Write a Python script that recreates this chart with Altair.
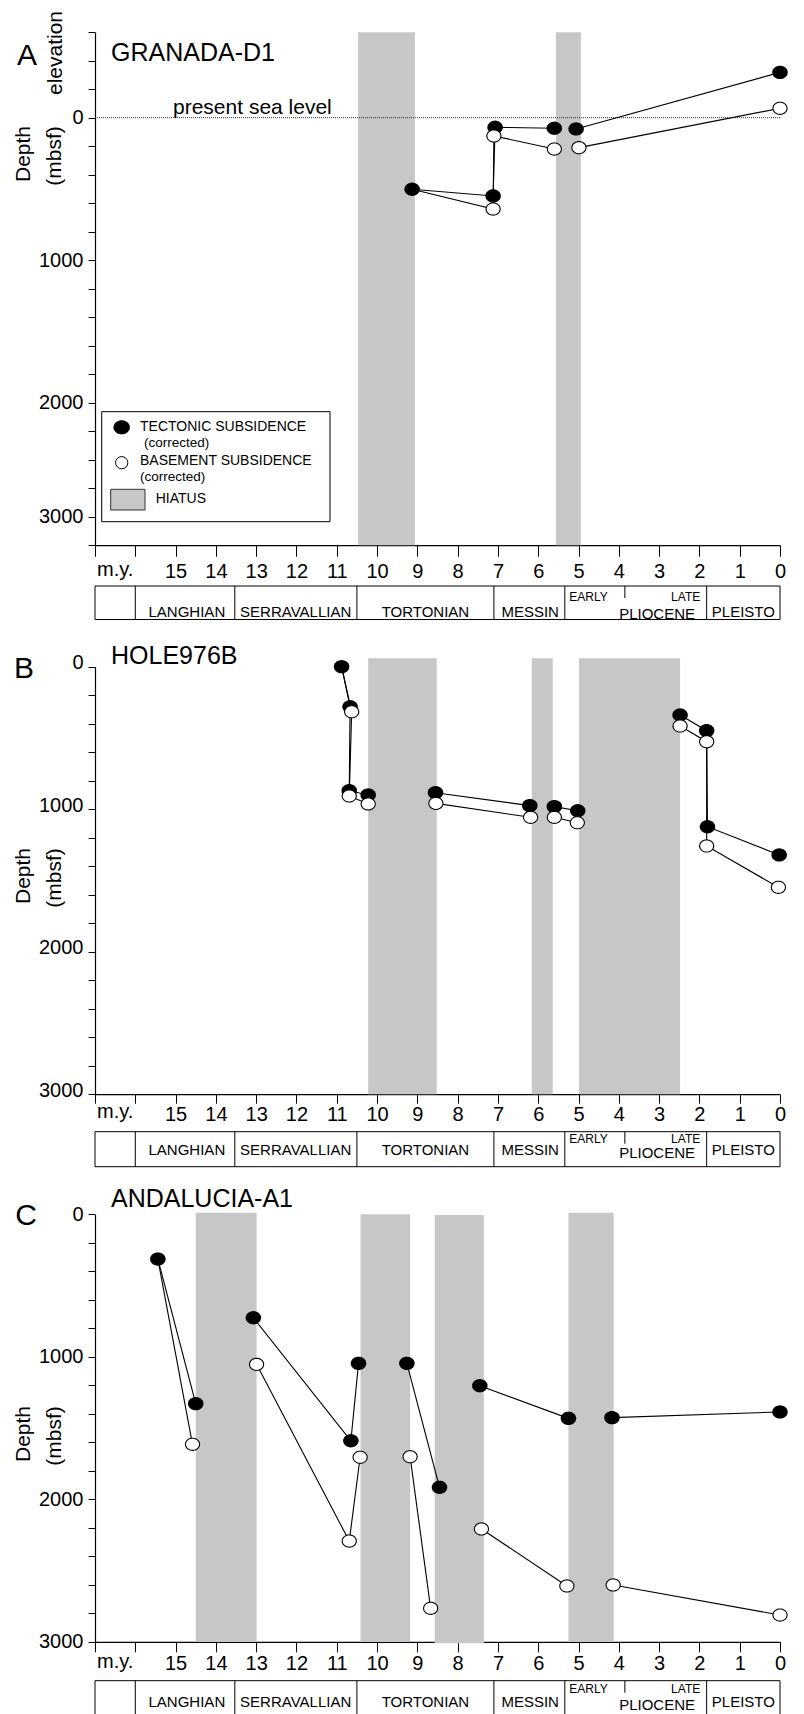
import math
import altair as alt
import pandas as pd

FONT = "Liberation Sans"
W, H = 685, 1706          # plot area (whole figure band)
LEFT, TOP = 95, 8         # page position of plot-area origin

# ---------------- shared age axis / stratigraphy ----------------
age_ticks = list(range(0, 18))
my_label_age = [16.5]
table_extent = [17.0, 0.0]
stage_names = ["LANGHIAN", "SERRAVALLIAN", "TORTONIAN", "MESSIN", "PLIOCENE", "PLEISTO"]
stage_label_age = [14.72, 12.02, 8.80, 6.20, 3.05, 0.91]
stage_bounds = [16.0, 13.53, 10.50, 7.10, 5.34, 1.82]
plio_sub_names = ["EARLY", "LATE"]
plio_sub_age = [5.23, 1.98]
plio_sub_bound = [3.85]
sea_level = [0]

# ---------------- A: GRANADA-D1 ----------------
A_tect_age = [9.13, 7.12, 7.07, 5.60, 5.06, 0.0]
A_tect_depth = [502, 549, 67, 74, 79, -318]
A_tect_seg = [1, 1, 1, 1, 2, 2]
A_base_age = [9.13, 7.12, 7.10, 5.60, 4.99, 0.0]
A_base_depth = [502, 641, 128, 220, 210, -66]
A_base_seg = [1, 1, 1, 1, 2, 2]
A_hiatus_start = [10.47, 5.56]
A_hiatus_end = [9.06, 4.94]
A_hiatus_top = [-600, -600]
A_hiatus_bottom = [3250, 3250]
A_yticks = [-600, -400, -200, 0, 200, 400, 600, 800, 1000, 1200, 1400, 1600, 1800,
            2000, 2250, 2500, 2750, 3000, 3250]

# ---------------- B: HOLE976B ----------------
B_tect_age = [10.88, 10.67, 10.69, 10.22, 8.55, 6.21, 5.60, 5.02, 2.48, 1.82, 1.80, 0.02]
B_tect_depth = [0, 281, 870, 900, 884, 975, 982, 1011, 339, 449, 1123, 1321]
B_tect_seg = [1, 1, 1, 1, 2, 2, 3, 3, 4, 4, 4, 4]
B_base_age = [10.88, 10.63, 10.69, 10.22, 8.54, 6.19, 5.60, 5.03, 2.48, 1.82, 1.82, 0.04]
B_base_depth = [0, 316, 907, 963, 959, 1057, 1057, 1095, 416, 526, 1258, 1548]
B_base_seg = [1, 1, 1, 1, 2, 2, 3, 3, 4, 4, 4, 4]
B_hiatus_start = [10.22, 6.16, 4.99]
B_hiatus_end = [8.52, 5.64, 2.48]
B_hiatus_top = [-59, -59, -59]
B_hiatus_bottom = [3000, 3000, 3000]
BC_yticks = list(range(0, 3001, 200))

# ---------------- C: ANDALUCIA-A1 ----------------
C_tect_age = [15.44, 14.50, 13.07, 10.65, 10.46, 9.26, 8.45, 7.45, 5.25, 4.17, 0.0]
C_tect_depth = [314, 1329, 726, 1589, 1046, 1046, 1916, 1203, 1432, 1427, 1387]
C_tect_seg = [1, 1, 2, 2, 2, 3, 3, 4, 4, 5, 5]
C_base_age = [15.44, 14.58, 12.99, 10.69, 10.42, 9.18, 8.67, 7.41, 5.29, 4.14, 0.0]
C_base_depth = [314, 1614, 1053, 2293, 1705, 1701, 2765, 2208, 2608, 2601, 2812]
C_base_seg = [1, 1, 2, 2, 2, 3, 3, 4, 4, 5, 5]
C_hiatus_start = [14.50, 10.41, 8.57, 5.25]
C_hiatus_end = [12.99, 9.18, 7.35, 4.13]
C_hiatus_top = [-11, 0, 5, -11]
C_hiatus_bottom = [3000, 3000, 3010, 3000]

GRAY = "#c6c7c9"
# slightly flattened ellipse symbol (unit box)
ELLIPSE = "M" + " L".join("%.3f,%.3f" % (1.0 * math.cos(2 * math.pi * k / 36),
                                          0.86 * math.sin(2 * math.pi * k / 36)) for k in range(36)) + " Z"


def txt(text, px, py, size, align="left", baseline="middle", angle=0):
    kw = dict(align=align, baseline=baseline, fontSize=size, font=FONT, color="black")
    if angle:
        kw["angle"] = angle
    return alt.Chart(pd.DataFrame({"t": [text]})).mark_text(**kw).encode(
        x=alt.value(px - LEFT), y=alt.value(py - TOP), text="t:N")


def make_panel(P):
    xs = alt.Scale(domain=[17, 0], nice=False, zero=False)
    ys = alt.Scale(domain=P["ydom"], range=[v - TOP for v in P["yrange"]], nice=False, zero=False)
    xaxis = alt.Axis(orient="bottom", values=age_ticks, format="d",
                     labelExpr="datum.value <= 15 ? datum.label : ''",
                     offset=P["xaxis_y"] - TOP - H, tickSize=P["tick"], labelPadding=P["lpad"],
                     labelFontSize=20, labelFont=FONT, labelColor="black", tickColor="black",
                     domainColor="black", domainWidth=1.2, tickWidth=1, grid=False, title=None,
                     labelFlush=False, labelOverlap=False, labelAngle=0)
    yaxis = alt.Axis(orient="left", values=P["yticks"], format="d",
                     labelExpr="(datum.value >= 0 && datum.value % 1000 == 0) ? datum.label : ''",
                     tickSize=7, labelPadding=5, labelFontSize=20, labelFont=FONT,
                     labelColor="black", tickColor="black", domainColor="black", domainWidth=1.2,
                     tickWidth=1, grid=False, title=None, labelOverlap=False,
                     labelBaseline="middle", labelOffset=P["yloff"])

    def X(f, axis=None):
        return alt.X(f, type="quantitative", scale=xs, axis=axis)

    def Y(f, axis=None):
        return alt.Y(f, type="quantitative", scale=ys, axis=axis)

    layers = []
    hi = pd.DataFrame({"a0": P["h_start"], "a1": P["h_end"], "d0": P["h_top"], "d1": P["h_bottom"]})
    layers.append(alt.Chart(hi).mark_rect(color=GRAY).encode(
        x=X("a0", xaxis), x2=alt.X2("a1"), y=Y("d0", yaxis), y2=alt.Y2("d1")))

    if P.get("sea"):
        sl = pd.DataFrame({"d": sea_level, "a0": [table_extent[0]], "a1": [table_extent[1]]})
        layers.append(alt.Chart(sl).mark_rule(color="#333333", strokeWidth=1, strokeDash=[1, 1]).encode(
            x=X("a0"), x2=alt.X2("a1"), y=Y("d")))

    t = pd.DataFrame({"age": P["t_age"], "depth": P["t_depth"], "seg": P["t_seg"]})
    t["key"] = ["t%d" % s for s in t["seg"]]
    t["i"] = range(len(t))
    b = pd.DataFrame({"age": P["b_age"], "depth": P["b_depth"], "seg": P["b_seg"]})
    b["key"] = ["b%d" % s for s in b["seg"]]
    b["i"] = range(len(b))
    lines = pd.concat([t, b], ignore_index=True)
    layers.append(alt.Chart(lines).mark_line(color="black", strokeWidth=1.1).encode(
        x=X("age"), y=Y("depth"), detail="key:N", order="i:Q"))
    layers.append(alt.Chart(t).mark_point(shape=ELLIPSE, filled=True, color="black", opacity=1,
                                          size=240).encode(x=X("age"), y=Y("depth")))
    layers.append(alt.Chart(b.iloc[1:]).mark_point(shape=ELLIPSE, filled=True, fill="white",
                                                   stroke="black", strokeWidth=1.1, opacity=1,
                                                   size=200).encode(x=X("age"), y=Y("depth")))

    # m.y. label
    layers.append(alt.Chart(pd.DataFrame({"a": my_label_age, "t": ["m.y."]})).mark_text(
        fontSize=20, font=FONT, color="black", baseline="middle").encode(
        x=X("a"), y=alt.value(P["xaxis_y"] + P["lab_off"] - TOP), text="t:N"))

    # stratigraphic table
    T0, T1 = P["table"]
    ext = pd.DataFrame({"a0": [table_extent[0]], "a1": [table_extent[1]]})
    layers.append(alt.Chart(ext).mark_rect(fillOpacity=0, stroke="black", strokeWidth=1).encode(
        x=X("a0"), x2=alt.X2("a1"), y=alt.value(T0 - TOP), y2=alt.value(T1 - TOP)))
    layers.append(alt.Chart(pd.DataFrame({"a": stage_bounds})).mark_rule(
        color="black", strokeWidth=1).encode(x=X("a"), y=alt.value(T0 - TOP), y2=alt.value(T1 - TOP)))
    layers.append(alt.Chart(pd.DataFrame({"a": plio_sub_bound})).mark_rule(
        color="black", strokeWidth=1).encode(x=X("a"), y=alt.value(T0 - TOP),
                                              y2=alt.value(T0 + 12 - TOP)))
    st = pd.DataFrame({"name": stage_names, "a": stage_label_age})
    base_st = alt.Chart(st).mark_text(fontSize=15, font=FONT, color="black", baseline="middle")
    layers.append(base_st.transform_filter("datum.name != 'PLIOCENE'").encode(
        x=X("a"), y=alt.value(P["stage_y"] - TOP), text="name:N"))
    layers.append(base_st.transform_filter("datum.name == 'PLIOCENE'").encode(
        x=X("a"), y=alt.value(P["stage_y"] + P["plio_dy"] - TOP), text="name:N"))
    sub = pd.DataFrame({"name": plio_sub_names, "a": plio_sub_age})
    layers.append(alt.Chart(sub).transform_filter("datum.name == 'EARLY'").mark_text(
        fontSize=12, font=FONT, color="black", baseline="middle", align="left").encode(
        x=X("a"), y=alt.value(P["sub_y"] - TOP), text="name:N"))
    layers.append(alt.Chart(sub).transform_filter("datum.name == 'LATE'").mark_text(
        fontSize=12, font=FONT, color="black", baseline="middle", align="right").encode(
        x=X("a"), y=alt.value(P["sub_y"] - TOP), text="name:N"))

    # titles / letters / axis titles
    lx, ly = P["letter_xy"]
    layers.append(txt(P["letter"], lx, ly, 30, align="center"))
    layers.append(txt(P["name"], 111, P["name_y"], 25))
    layers.append(txt("Depth", 24, P["depth_y"], 21, align="center", angle=270))
    layers.append(txt("(mbsf)", 55, P["depth_y"] + 2, 21, align="center", angle=270))
    layers.extend(P.get("extra", []))
    return layers


# legend + annotations for panel A
legend = [
    txt("elevation", 56, 53, 21, align="center", angle=270),
    txt("present sea level", 173, 113.5, 21, baseline="alphabetic"),
    alt.Chart(pd.DataFrame({"t": ["box"]})).mark_rect(fill="white", stroke="black", strokeWidth=1).encode(
        x=alt.value(101.7 - LEFT), x2=alt.value(330 - LEFT), y=alt.value(411.7 - TOP), y2=alt.value(521.7 - TOP)),
    alt.Chart(pd.DataFrame({"t": ["f"]})).mark_point(shape=ELLIPSE, filled=True, color="black", opacity=1,
                                                    size=270).encode(
        x=alt.value(121.7 - LEFT), y=alt.value(427.3 - TOP)),
    alt.Chart(pd.DataFrame({"t": ["o"]})).mark_point(shape="circle", filled=True, fill="white", stroke="black",
                                                    strokeWidth=1, opacity=1, size=150).encode(
        x=alt.value(121.7 - LEFT), y=alt.value(462.7 - TOP)),
    alt.Chart(pd.DataFrame({"t": ["h"]})).mark_rect(fill=GRAY, stroke="#333333", strokeWidth=1).encode(
        x=alt.value(110.7 - LEFT), x2=alt.value(145 - LEFT), y=alt.value(489.3 - TOP), y2=alt.value(510 - TOP)),
    txt("TECTONIC SUBSIDENCE", 140, 426.7, 14),
    txt("(corrected)", 144, 443.3, 13.5),
    txt("BASEMENT SUBSIDENCE", 140, 461, 14),
    txt("(corrected)", 140, 477.3, 13.5),
    txt("HIATUS", 155.7, 499.3, 14),
]

PA = dict(letter="A", letter_xy=(27, 56), name="GRANADA-D1", name_y=52.5, depth_y=154,
          ydom=[-600, 2000, 3250], yrange=[32.2, 402.7, 545.2], yticks=A_yticks, yloff=0,
          xaxis_y=545.2, tick=11, lpad=5, lab_off=25, table=(586, 619.5), stage_y=611.5, sub_y=596.5,
          plio_dy=2,
          h_start=A_hiatus_start, h_end=A_hiatus_end, h_top=A_hiatus_top, h_bottom=A_hiatus_bottom,
          t_age=A_tect_age, t_depth=A_tect_depth, t_seg=A_tect_seg,
          b_age=A_base_age, b_depth=A_base_depth, b_seg=A_base_seg, sea=True, extra=legend)
PB = dict(letter="B", letter_xy=(24, 669), name="HOLE976B", name_y=656, depth_y=876,
          ydom=[0, 3000], yrange=[666.7, 1094.2], yticks=BC_yticks, yloff=-4,
          xaxis_y=1094.2, tick=9, lpad=1, lab_off=18, table=(1131.7, 1166.7), stage_y=1149.5, sub_y=1138.6,
          plio_dy=3.8,
          h_start=B_hiatus_start, h_end=B_hiatus_end, h_top=B_hiatus_top, h_bottom=B_hiatus_bottom,
          t_age=B_tect_age, t_depth=B_tect_depth, t_seg=B_tect_seg,
          b_age=B_base_age, b_depth=B_base_depth, b_seg=B_base_seg)
PC = dict(letter="C", letter_xy=(26, 1216), name="ANDALUCIA-A1", name_y=1199, depth_y=1434,
          ydom=[0, 3000], yrange=[1214.3, 1641.8], yticks=BC_yticks, yloff=0,
          xaxis_y=1641.8, tick=10, lpad=2, lab_off=20, table=(1680.7, 1716), stage_y=1702.3, sub_y=1689,
          plio_dy=2.5,
          h_start=C_hiatus_start, h_end=C_hiatus_end, h_top=C_hiatus_top, h_bottom=C_hiatus_bottom,
          t_age=C_tect_age, t_depth=C_tect_depth, t_seg=C_tect_seg,
          b_age=C_base_age, b_depth=C_base_depth, b_seg=C_base_seg)

all_layers = make_panel(PA) + make_panel(PB) + make_panel(PC)
chart = alt.layer(*all_layers).resolve_scale(
    x="independent", y="independent").resolve_axis(x="independent", y="independent").properties(
    width=W, height=H, padding={"left": LEFT - 8, "top": TOP - 8, "right": 16, "bottom": 0},
    autosize=alt.AutoSizeParams(type="none"), background="white").configure_view(stroke=None)

chart.save("out.html", embed_options={"renderer": "svg", "actions": False})
